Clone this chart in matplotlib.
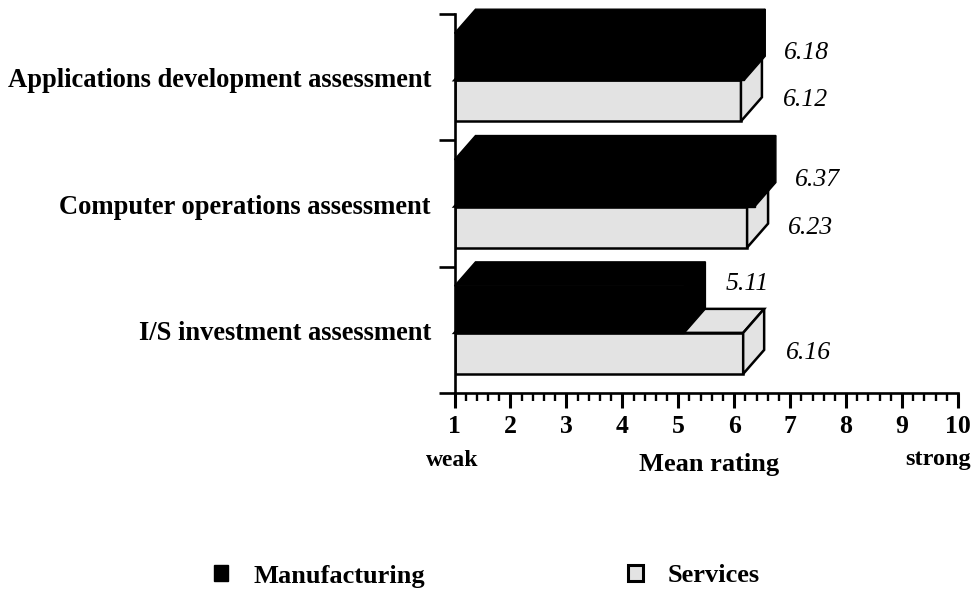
import numpy as np
import matplotlib
matplotlib.use('Agg')
import matplotlib.pyplot as plt
from matplotlib.patches import Patch

plt.rcParams['font.family'] = 'Liberation Serif'

categories = ['I/S investment assessment', 'Computer operations assessment',
              'Applications development assessment']
manufacturing = [5.11, 6.37, 6.18]
services = [6.16, 6.23, 6.12]
x_ticks = [1, 2, 3, 4, 5, 6, 7, 8, 9, 10]

# label nudges in points (manufacturing, services)
man_nudge = [(45, 18), (45, 2.5), (44.6, 3)]
serv_nudge = [(47.4, 0), (46, -1), (46.7, 0.6)]

GREY = '#e3e3e3'
DX = 0.375   # 3d depth, data units
DY = 0.19
H_MAN = 0.372
H_SERV = 0.325


def box(ax, x, y0, h, fill, edge, lw, z):
    ax.barh(y0 + h / 2, x - 1, height=h, left=1, color=fill, edgecolor=edge, linewidth=lw, zorder=z)
    top = [(1, y0 + h), (1 + DX, y0 + h + DY), (x + DX, y0 + h + DY), (x, y0 + h)]
    side = [(x, y0), (x + DX, y0 + DY), (x + DX, y0 + h + DY), (x, y0 + h)]
    for pts in (top, side):
        ax.fill(*zip(*pts), facecolor=fill, edgecolor=edge, linewidth=lw, zorder=z, clip_on=False)


fig = plt.figure(figsize=(9.75, 5.91), dpi=100)
ax = fig.add_axes([454.5 / 975, 1 - 393 / 591, 503.5 / 975, 379 / 591])
ax.set_xlim(1, 10)
ax.set_ylim(0, 3)

for i in range(3):
    mid = i + 0.476
    box(ax, services[i], mid - H_SERV, H_SERV, GREY, 'black', 1.8, 3)
    box(ax, manufacturing[i], mid, H_MAN, 'black', 'black', 1.0, 4)
    ax.annotate('%.2f' % manufacturing[i], (manufacturing[i], mid + H_MAN / 2), xytext=man_nudge[i],
                textcoords='offset points', ha='center', va='center',
                style='italic', fontsize=18.5, annotation_clip=False)
    ax.annotate('%.2f' % services[i], (services[i], mid - H_SERV / 2), xytext=serv_nudge[i],
                textcoords='offset points', ha='center', va='center',
                style='italic', fontsize=18.5, annotation_clip=False)

for s in ['top', 'right']:
    ax.spines[s].set_visible(False)
for s in ['left', 'bottom']:
    ax.spines[s].set_linewidth(1.9)
    ax.spines[s].set_zorder(5)

ax.set_yticks([0, 1, 2, 3])
ax.set_yticklabels([])
ax.tick_params(axis='y', length=11.5, width=1.9)
ax.set_xticks(x_ticks)
ax.set_xticks(np.arange(1, 10, 0.2), minor=True)
ax.tick_params(axis='x', which='major', length=11, width=2.2, pad=5, labelsize=18.5)
ax.tick_params(axis='x', which='minor', length=5.5, width=1.7)
for t in ax.get_xticklabels():
    t.set_fontweight('bold')

for i, c in enumerate(categories):
    ax.annotate(c, (0, i + 0.476), xycoords=('axes fraction', 'data'), xytext=(-17, -0.5),
                textcoords='offset points', ha='right', va='center',
                fontweight='bold', fontsize=19.1, annotation_clip=False)

fig.text(709 / 975, 1 - 465 / 591, 'Mean rating', ha='center', va='center', fontweight='bold', fontsize=19)
fig.text(452 / 975, 1 - 460 / 591, 'weak', ha='center', va='center', fontweight='bold', fontsize=17)
fig.text(938 / 975, 1 - 460 / 591, 'strong', ha='center', va='center', fontweight='bold', fontsize=17.5)

handles = [Patch(facecolor='black', edgecolor='black'),
           Patch(facecolor=GREY, edgecolor='black', linewidth=2.2)]
fig.legend(handles, ['Manufacturing', 'Services'], ncol=2, frameon=False,
           loc='center left', bbox_to_anchor=(190 / 975, 1 - 576 / 591),
           prop={'weight': 'bold', 'size': 19}, handlelength=0.55, handleheight=0.55,
           handletextpad=0.95, columnspacing=7.7)

fig.savefig('out.png', dpi=100)
